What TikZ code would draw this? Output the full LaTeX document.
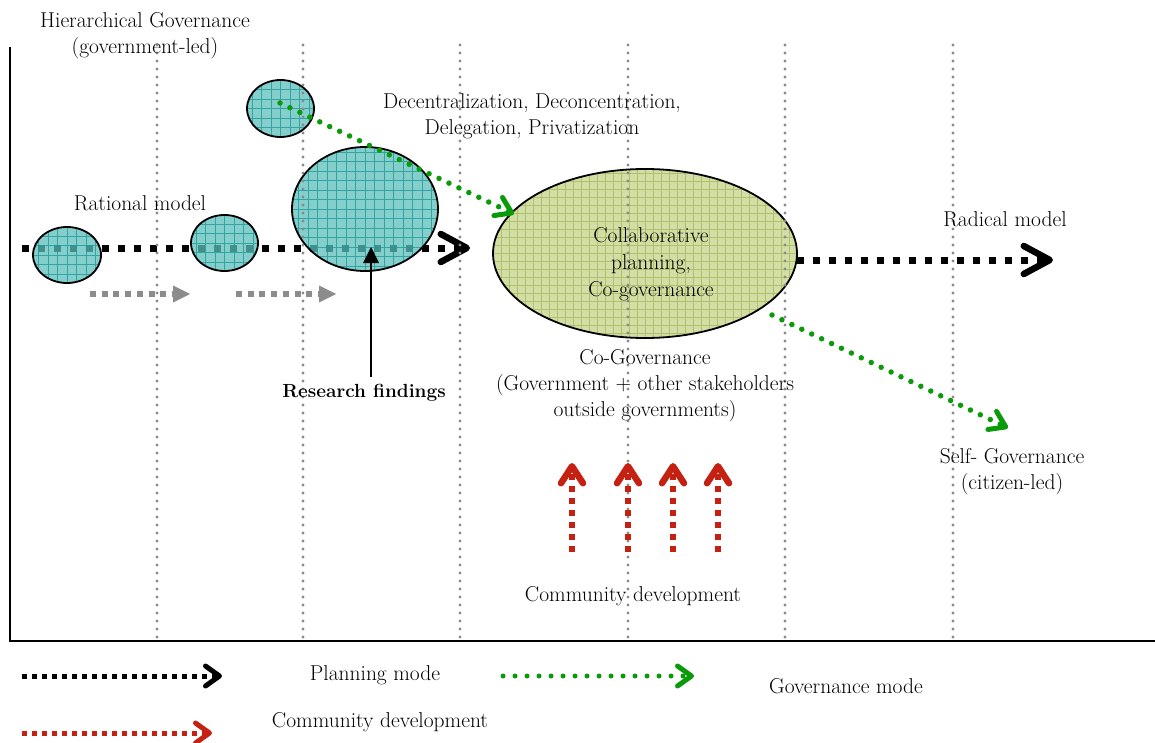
\documentclass[tikz,border=0pt]{standalone}
\usetikzlibrary{arrows.meta,shapes.geometric}

\definecolor{tealfill}{HTML}{5BBFBA}
\definecolor{tealgrid}{HTML}{1F9A97}
\definecolor{olivefill}{HTML}{D3DEA6}
\definecolor{olivegrid}{HTML}{A5B95C}
\definecolor{guide}{HTML}{8A8A8A}
\definecolor{govgreen}{HTML}{0A9A0A}
\definecolor{commred}{HTML}{C42112}
\definecolor{stepgray}{HTML}{8C8C8C}

\tikzset{
  lbl/.style={font=\fontsize{21.5}{26}\selectfont, align=center, inner sep=0pt},
  boldlbl/.style={font=\fontsize{19}{24}\selectfont\bfseries, align=center, inner sep=0pt},
  blob/.style={ellipse, draw=black, line width=1.8pt, inner sep=0pt,
    fill=tealfill, fill opacity=0.75,
    path picture={\draw[tealgrid, line width=0.7pt, opacity=0.8]
      ([shift={(-2pt,-2pt)}]path picture bounding box.south west) grid[step=9.5pt]
      (path picture bounding box.north east);}},
  collabblob/.style={ellipse, draw=black, line width=1.8pt, inner sep=0pt,
    fill=olivefill,
    path picture={\draw[olivegrid, line width=0.6pt, opacity=0.8]
      ([shift={(-2pt,-2pt)}]path picture bounding box.south west) grid[step=8pt]
      (path picture bounding box.north east);}},
  guideline/.style={guide, line width=3.2pt, line cap=round, dash pattern=on 0pt off 8pt},
  planning/.style={black, line width=7pt, dash pattern=on 7pt off 9pt,
    -{Straight Barb[length=26pt,width=28pt,line width=6.5pt,round]}},
  planlegend/.style={black, line width=5pt, dash pattern=on 5pt off 5pt,
    -{Straight Barb[length=14pt,width=20pt,line width=5pt,round]}},
  govmode/.style={govgreen, line width=5.5pt, line cap=round, dash pattern=on 0pt off 11pt,
    -{Straight Barb[length=15pt,width=20pt,line width=5pt,round]}},
  govlegend/.style={govgreen, line width=5pt, line cap=round, dash pattern=on 0pt off 12pt,
    -{Straight Barb[length=14pt,width=20pt,line width=5pt,round]}},
  commdev/.style={commred, line width=6pt, dash pattern=on 6pt off 6pt,
    -{Straight Barb[length=17pt,width=22pt,line width=6.5pt,round]}},
  commlegend/.style={commred, line width=5pt, dash pattern=on 5pt off 5pt,
    -{Straight Barb[length=14pt,width=20pt,line width=5pt,round]}},
  stepflow/.style={stepgray, line width=6pt, dash pattern=on 6pt off 5.7pt,
    -{Triangle[length=17pt,width=17pt,line width=0pt]}},
  pointer/.style={black, line width=1.5pt, -{Triangle[length=16pt,width=16pt,line width=0pt]}}
}

\begin{document}
\begin{tikzpicture}[x=1pt,y=-1pt]
  \useasboundingbox (0,0) rectangle (1155,743);

  % axes
  \draw[line width=2pt] (10,47) -- (10,641) -- (1155,641);

  % planning-mode line through the rational model
  \coordinate (ratstart) at (22,248);
  \coordinate (ratend) at (470,248);
  \draw[planning] (ratstart) -- (ratend);

  % stages of the rational model
  \node[blob, minimum width=68pt, minimum height=56pt] (c1) at (67,255) {};
  \node[blob, minimum width=67pt, minimum height=56pt] (c2) at (224.5,243) {};
  \node[blob, minimum width=67pt, minimum height=57pt] (c3) at (280.5,108.5) {};
  \node[blob, minimum width=146pt, minimum height=124pt] (c4) at (365,209) {};
  \node[collabblob, minimum width=304pt, minimum height=169pt] (collab) at (645,253.5) {};

  % vertical guide lines
  \foreach \gx in {157,303,460,628,785,953}
    \draw[guideline] (\gx,45) -- (\gx,641);

  % small steps between the first stages
  \coordinate (s1a) at (90,294);
  \coordinate (s1b) at (190,294);
  \coordinate (s2a) at (236,294);
  \coordinate (s2b) at (336,294);
  \draw[stepflow] (s1a) -- (s1b);
  \draw[stepflow] (s2a) -- (s2b);

  % planning-mode line towards the radical model
  \coordinate (radstart) at (797,260);
  \coordinate (radend) at (1053,260);
  \draw[planning] (radstart) -- (radend);

  % governance-mode lines
  \coordinate (govstart) at (280,103);
  \coordinate (govend) at (514,214);
  \draw[govmode] (govstart) -- (govend);
  \coordinate (selfstart) at (772,315);
  \coordinate (selfend) at (1008,428);
  \draw[govmode] (selfstart) -- (selfend);

  % research findings pointer
  \coordinate (rfbase) at (371,377);
  \coordinate (rftip) at (371,247);
  \draw[pointer] (rfbase) -- (rftip);

  % community development arrows
  \foreach \cx/\cn in {572/a,628/b,673/c,718/d} {
    \coordinate (cd\cn base) at (\cx,552);
    \coordinate (cd\cn tip) at (\cx,463);
    \draw[commdev] (cd\cn base) -- (cd\cn tip);
  }

  % labels
  \node[lbl] (hier) at (145,36) {Hierarchical Governance\\(government-led)};
  \node[lbl] (decent) at (532,116) {Decentralization, Deconcentration,\\Delegation, Privatization};
  \node[lbl] (rational) at (140,203) {Rational model};
  \node[lbl, font=\fontsize{21.5}{27}\selectfont] (collabtext) at (651,264) {Collaborative\\planning,\\Co-governance};
  \node[lbl] (radical) at (1005,219) {Radical model};
  \node[lbl] (cogov) at (645,386) {Co-Governance\\(Government + other stakeholders\\outside governments)};
  \node[boldlbl] (research) at (364,393) {Research findings};
  \node[lbl] (selfgov) at (1012,472) {Self- Governance\\(citizen-led)};
  \node[lbl] (community) at (633,596) {Community development};

  % legend
  \coordinate (lp1) at (22,676);
  \coordinate (lp2) at (222,676);
  \draw[planlegend] (lp1) -- (lp2);
  \node[lbl] (lplan) at (375,675) {Planning mode};
  \coordinate (lg1) at (503,676);
  \coordinate (lg2) at (694,676);
  \draw[govlegend] (lg1) -- (lg2);
  \node[lbl] (lgov) at (846,686) {Governance mode};
  \coordinate (lc1) at (22,733);
  \coordinate (lc2) at (212,733);
  \draw[commlegend] (lc1) -- (lc2);
  \node[lbl] (lcomm) at (380,722) {Community development};
\end{tikzpicture}
\end{document}
